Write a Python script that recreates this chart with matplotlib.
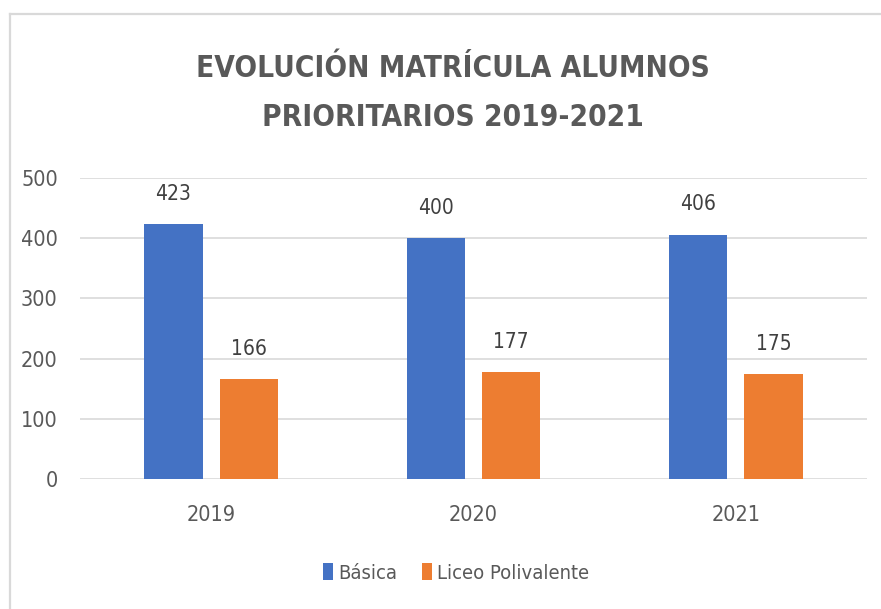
import matplotlib
matplotlib.use("Agg")
import matplotlib.pyplot as plt
from matplotlib.patches import Patch
from matplotlib.lines import Line2D
from matplotlib import font_manager as fm
import numpy as np

years = ["2019", "2020", "2021"]
basica = [423, 400, 406]
liceo = [166, 177, 175]
series_names = ["Básica", "Liceo Polivalente"]
title_text = "EVOLUCIÓN MATRÍCULA ALUMNOS\nPRIORITARIOS 2019-2021"

BLUE = "#4472C4"
ORANGE = "#ED7D31"
TXT = "#595959"
GRID = "#D9D9D9"


def find_narrow(bold):
    best = None
    for f in fm.fontManager.ttflist:
        name = f.name
        stretch = str(f.stretch).lower()
        narrow = ("narrow" in name.lower() or "condensed" in name.lower()
                  or stretch in ("condensed", "semi-condensed", "extra-condensed", "ultra-condensed")
                  or "narrow" in f.fname.lower() or "condensed" in f.fname.lower())
        if not narrow:
            continue
        if "extra" in f.fname.lower() or "ultra" in f.fname.lower():
            continue
        w = f.weight if isinstance(f.weight, int) else (700 if "bold" in str(f.weight) else 400)
        if f.style != "normal":
            continue
        isbold = w >= 600
        if isbold != bold:
            continue
        score = 0
        n = (name + f.fname).lower()
        if "liberation" in n:
            score = 3
        elif "dejavu" in n:
            score = 2
        elif "roboto" in n or "open" in n or "noto" in n:
            score = 1
        if best is None or score > best[0]:
            best = (score, f.fname)
    return best[1] if best else None


reg_path = find_narrow(False)
bold_path = find_narrow(True)


def fp(size, bold=False):
    path = bold_path if bold else reg_path
    if path:
        return fm.FontProperties(fname=path, size=size)
    return fm.FontProperties(family=["Roboto", "DejaVu Sans"], size=size * 0.85,
                             weight="bold" if bold else "normal")


W, H = 881, 609
fig = plt.figure(figsize=(W / 100, H / 100), dpi=100)
fig.patch.set_facecolor("white")

left_px, right_px = 80, 867
top_px, bottom_px = 178, 479
ax = fig.add_axes([left_px / W, 1 - bottom_px / H,
                   (right_px - left_px) / W, (bottom_px - top_px) / H])

x = np.arange(len(years))
bw = 0.222
off = 0.144
b1 = ax.bar(x - off, basica, bw, color=BLUE, zorder=3)
b2 = ax.bar(x + off, liceo, bw, color=ORANGE, zorder=3)

lab_fp = fp(15)
for bars, vals in ((b1, basica), (b2, liceo)):
    for rect, v in zip(bars, vals):
        ax.annotate(f"{v}", (rect.get_x() + rect.get_width() / 2, v),
                    xytext=(0, 14.5), textcoords="offset points",
                    ha="center", va="bottom", fontproperties=lab_fp, color="#404040")

ax.set_xlim(-0.5, len(years) - 0.5)
ax.set_ylim(0, 500)
ax.set_yticks(np.arange(0, 501, 100))
ax.set_xticks(x)
ax.set_xticklabels(years)
ax.tick_params(axis="both", length=0, labelcolor=TXT)
ax.tick_params(axis="y", pad=16)
ax.tick_params(axis="x", pad=18.5)
for lbl in ax.get_xticklabels() + ax.get_yticklabels():
    lbl.set_fontproperties(fp(15.5))
ax.yaxis.grid(True, color=GRID, linewidth=1.2, zorder=0)
ax.set_axisbelow(True)
for s in ax.spines.values():
    s.set_visible(False)

fig.text(453 / W, 1 - 93 / H, title_text, ha="center", va="center",
         fontproperties=fp(21.3, bold=True), color=TXT, linespacing=1.85)

handles = [Patch(facecolor=BLUE, edgecolor="none"),
           Patch(facecolor=ORANGE, edgecolor="none")]
fig.legend(handles, series_names, loc="center", bbox_to_anchor=(456 / W, 1 - 573 / H),
           ncol=2, frameon=False, prop=fp(14.5), labelcolor=TXT,
           handlelength=0.5, handleheight=0.85, handletextpad=0.25,
           columnspacing=1.2)

fig.add_artist(Line2D([10 / W, 10 / W], [0, 1 - 14 / H], color=GRID, linewidth=1.6,
                      transform=fig.transFigure))
fig.add_artist(Line2D([10 / W, 1], [1 - 14 / H, 1 - 14 / H], color=GRID, linewidth=1.6,
                      transform=fig.transFigure))

fig.savefig("out.png", dpi=100, facecolor="white")
